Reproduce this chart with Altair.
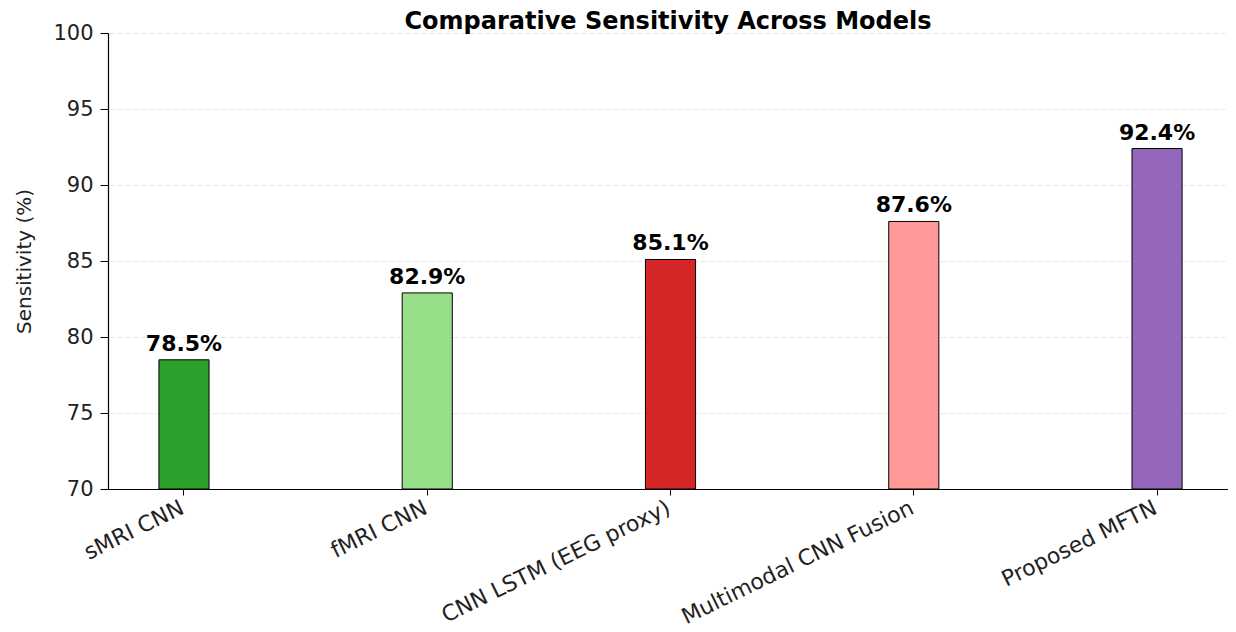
import altair as alt
import pandas as pd

models = ["sMRI CNN", "fMRI CNN", "CNN LSTM (EEG proxy)", "Multimodal CNN Fusion", "Proposed MFTN"]
sensitivity = [78.5, 82.9, 85.1, 87.6, 92.4]
colors = ["#2ca02c", "#98df8a", "#d62728", "#ff9896", "#9467bd"]
y_ticks = [70, 75, 80, 85, 90, 95, 100]

df = pd.DataFrame({
    "model": models,
    "sens": sensitivity,
    "label": [f"{v:.1f}%" for v in sensitivity],
})

FONT = "DejaVu Sans"

x_enc = alt.X(
    "model:N",
    sort=models,
    scale=alt.Scale(paddingInner=0.794, paddingOuter=0.199, align=0.526),
    axis=alt.Axis(
        title=None,
        labelAngle=334,
        labelAlign="right",
        labelBaseline="top",
        labelFontSize=22,
        labelFont=FONT,
        labelColor="#222222",
        labelPadding=2,
        labelOffset=-6,
        tickSize=6,
        tickColor="black",
        domainColor="black",
        domainWidth=1.2,
        grid=False,
        labelLimit=400,
    ),
)

y_scale = alt.Scale(domain=[70, 100], nice=False, zero=False)

bars = alt.Chart(df).mark_bar(stroke="black", strokeWidth=1, clip=True).encode(
    x=x_enc,
    y=alt.Y(
        "sens:Q",
        scale=y_scale,
        axis=alt.Axis(
            title="Sensitivity (%)",
            values=y_ticks,
            labelFontSize=21,
            labelFont=FONT,
            labelColor="#222222",
            labelPadding=7,
            tickSize=8,
            tickColor="black",
            domainColor="black",
            domainWidth=1.2,
            grid=True,
            gridColor="#e6e6e6",
            gridDash=[5, 3],
            gridWidth=1,
            titleFont=FONT,
            titleFontSize=20,
            titleFontWeight="normal",
            titleColor="#222222",
            titleAngle=270,
            titleAlign="center",
            titleBaseline="alphabetic",
            titleX=-78,
            titleY=228,
        ),
    ),
    y2=alt.datum(70),
    color=alt.Color("model:N", scale=alt.Scale(domain=models, range=colors), legend=None),
)

texts = alt.Chart(df).mark_text(
    font=FONT, fontSize=22, fontWeight="bold", color="black",
    baseline="alphabetic", align="center", dy=-9,
).encode(
    x=alt.X("model:N", sort=models),
    y=alt.Y("sens:Q", scale=y_scale),
    text="label:N",
)

chart = (bars + texts).properties(
    width=1120,
    height=456,
    padding={"left": 100, "top": 25, "right": 0, "bottom": 143},
    autosize=alt.AutoSizeParams(type="none"),
    background="white",
    title=alt.TitleParams(
        "Comparative Sensitivity Across Models",
        font=FONT, fontSize=24, fontWeight="bold", color="black",
        anchor="middle", offset=-12,
    ),
).configure_view(strokeWidth=0, stroke=None)

chart.save("out.html", embed_options={"renderer": "svg", "actions": False})
